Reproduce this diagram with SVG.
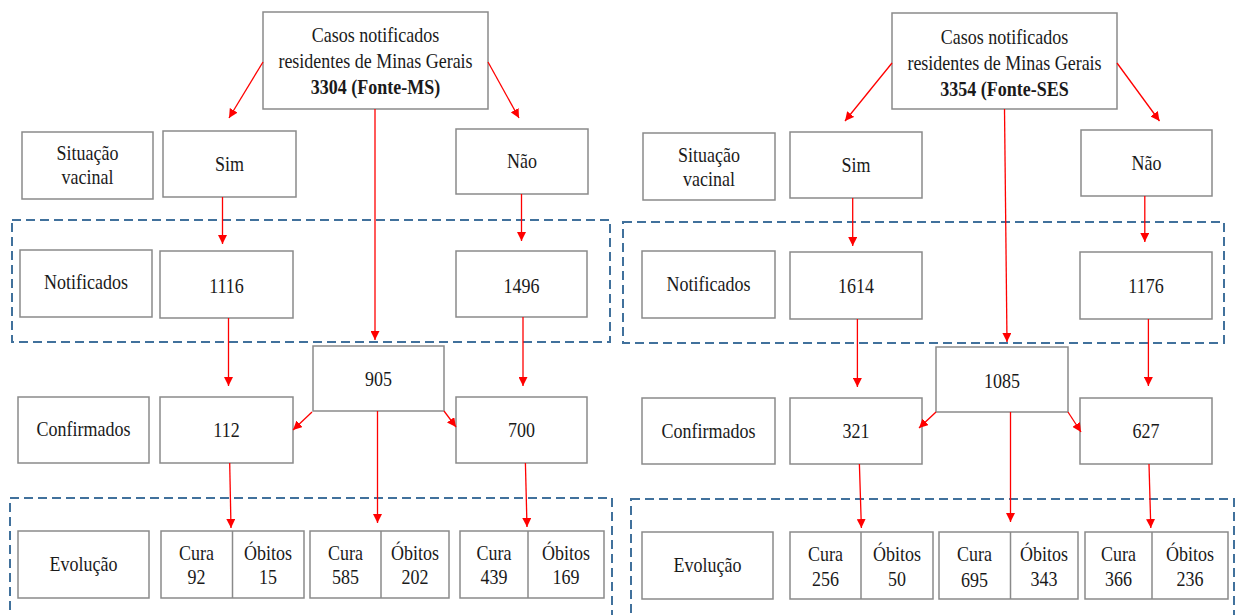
<svg xmlns="http://www.w3.org/2000/svg" width="1235" height="615" viewBox="0 0 1235 615">
<style>
.bx{fill:#fff;stroke:#8a8a8a;stroke-width:1.5}
.dv{stroke:#8a8a8a;stroke-width:1.5}
.grp{fill:none;stroke:#41719C;stroke-width:2;stroke-dasharray:9 5}
.t{font-family:"Liberation Serif","Times New Roman",serif;font-size:18px;fill:#1a1a1a;text-anchor:middle}
.b{font-weight:bold}
.c line{stroke:#ff0000;stroke-width:1.3;marker-end:url(#ah)}
</style>
<defs>
<marker id="ah" markerUnits="userSpaceOnUse" markerWidth="9" markerHeight="9" refX="9" refY="4.5" orient="auto">
<path d="M0,0 L9,4.5 L0,9 z" fill="#ff0000"/>
</marker>
</defs>
<rect width="1235" height="615" fill="#fff"/>
<g id="groups">
<rect class="grp" x="12" y="220" width="598" height="122"/>
<rect class="grp" x="10" y="498" width="602" height="140"/>
<rect class="grp" x="623" y="222" width="601" height="121"/>
<rect class="grp" x="631" y="499" width="603" height="140"/>
</g>
<!-- Left panel -->
<g id="top_l"><rect class="bx" x="263" y="12" width="225" height="97"/>
<text class="t" transform="matrix(1,0,0,1.15,375.5,42)">Casos notificados</text>
<text class="t" transform="matrix(1,0,0,1.15,375.5,68)">residentes de Minas  Gerais</text>
<text class="t b" transform="matrix(1,0,0,1.15,375.5,94)">3304 (Fonte-MS)</text></g>
<g id="sit_l"><rect class="bx" x="22" y="132" width="131" height="67"/>
<text class="t" transform="matrix(1,0,0,1.15,87.5,160)">Situação</text><text class="t" transform="matrix(1,0,0,1.15,87.5,184)">vacinal</text></g>
<g id="sim_l"><rect class="bx" x="163" y="131" width="133" height="66"/><text class="t" transform="matrix(1,0,0,1.15,229.5,171)">Sim</text></g>
<g id="nao_l"><rect class="bx" x="456" y="129" width="132" height="65"/><text class="t" transform="matrix(1,0,0,1.15,522,168)">Não</text></g>
<g id="notif_l"><rect class="bx" x="20" y="250" width="132" height="67"/><text class="t" transform="matrix(1,0,0,1.15,86,289)">Notificados</text></g>
<g id="n1116"><rect class="bx" x="160" y="251" width="133" height="67"/><text class="t" transform="matrix(1,0,0,1.15,226.5,293)">1116</text></g>
<g id="n1496"><rect class="bx" x="456" y="251" width="131" height="66"/><text class="t" transform="matrix(1,0,0,1.15,521.5,293)">1496</text></g>
<g id="n905"><rect class="bx" x="313" y="346" width="131" height="65"/><text class="t" transform="matrix(1,0,0,1.15,378.5,386)">905</text></g>
<g id="conf_l"><rect class="bx" x="18" y="397" width="131" height="66"/><text class="t" transform="matrix(1,0,0,1.15,83.5,436)">Confirmados</text></g>
<g id="n112"><rect class="bx" x="160" y="397" width="133" height="66"/><text class="t" transform="matrix(1,0,0,1.15,226.5,437)">112</text></g>
<g id="n700"><rect class="bx" x="456" y="397" width="131" height="66"/><text class="t" transform="matrix(1,0,0,1.15,521.5,437)">700</text></g>
<g id="evol_l"><rect class="bx" x="18" y="531" width="131" height="67"/><text class="t" transform="matrix(1,0,0,1.15,83.5,571)">Evolução</text></g>
<g id="ev_l1"><rect class="bx" x="161" y="531" width="143" height="67"/><line class="dv" x1="232.5" y1="531" x2="232.5" y2="598"/>
<text class="t" transform="matrix(1,0,0,1.15,196.5,560)">Cura</text><text class="t" transform="matrix(1,0,0,1.15,196.5,584)">92</text>
<text class="t" transform="matrix(1,0,0,1.15,268,560)">Óbitos</text><text class="t" transform="matrix(1,0,0,1.15,268,584)">15</text></g>
<g id="ev_l2"><rect class="bx" x="310" y="531" width="139" height="67"/><line class="dv" x1="381" y1="531" x2="381" y2="598"/>
<text class="t" transform="matrix(1,0,0,1.15,345.5,560)">Cura</text><text class="t" transform="matrix(1,0,0,1.15,345.5,584)">585</text>
<text class="t" transform="matrix(1,0,0,1.15,415,560)">Óbitos</text><text class="t" transform="matrix(1,0,0,1.15,415,584)">202</text></g>
<g id="ev_l3"><rect class="bx" x="460" y="531" width="144" height="67"/><line class="dv" x1="528" y1="531" x2="528" y2="598"/>
<text class="t" transform="matrix(1,0,0,1.15,494,560)">Cura</text><text class="t" transform="matrix(1,0,0,1.15,494,584)">439</text>
<text class="t" transform="matrix(1,0,0,1.15,566,560)">Óbitos</text><text class="t" transform="matrix(1,0,0,1.15,566,584)">169</text></g>
<!-- Right panel -->
<g id="top_r"><rect class="bx" x="892" y="13" width="225" height="96"/>
<text class="t" transform="matrix(1,0,0,1.15,1004.5,44)">Casos notificados</text>
<text class="t" transform="matrix(1,0,0,1.15,1004.5,70)">residentes de Minas  Gerais</text>
<text class="t b" transform="matrix(1,0,0,1.15,1004.5,96)">3354 (Fonte-SES</text></g>
<g id="sit_r"><rect class="bx" x="643" y="133" width="132" height="67"/>
<text class="t" transform="matrix(1,0,0,1.15,709,162)">Situação</text><text class="t" transform="matrix(1,0,0,1.15,709,186)">vacinal</text></g>
<g id="sim_r"><rect class="bx" x="790" y="132" width="132" height="66"/><text class="t" transform="matrix(1,0,0,1.15,856,172)">Sim</text></g>
<g id="nao_r"><rect class="bx" x="1081" y="130" width="131" height="66"/><text class="t" transform="matrix(1,0,0,1.15,1146.5,170)">Não</text></g>
<g id="notif_r"><rect class="bx" x="642" y="251" width="133" height="67"/><text class="t" transform="matrix(1,0,0,1.15,708.5,291)">Notificados</text></g>
<g id="n1614"><rect class="bx" x="790" y="252" width="132" height="67"/><text class="t" transform="matrix(1,0,0,1.15,856,293)">1614</text></g>
<g id="n1176"><rect class="bx" x="1080" y="252" width="132" height="67"/><text class="t" transform="matrix(1,0,0,1.15,1146,293)">1176</text></g>
<g id="n1085"><rect class="bx" x="936" y="347" width="132" height="65"/><text class="t" transform="matrix(1,0,0,1.15,1002,388)">1085</text></g>
<g id="conf_r"><rect class="bx" x="642" y="398" width="133" height="66"/><text class="t" transform="matrix(1,0,0,1.15,708.5,438)">Confirmados</text></g>
<g id="n321"><rect class="bx" x="790" y="398" width="132" height="66"/><text class="t" transform="matrix(1,0,0,1.15,856,438)">321</text></g>
<g id="n627"><rect class="bx" x="1080" y="398" width="132" height="66"/><text class="t" transform="matrix(1,0,0,1.15,1146,438)">627</text></g>
<g id="evol_r"><rect class="bx" x="642" y="532" width="131" height="67"/><text class="t" transform="matrix(1,0,0,1.15,707.5,572)">Evolução</text></g>
<g id="ev_r1"><rect class="bx" x="790" y="532" width="143" height="67"/><line class="dv" x1="861" y1="532" x2="861" y2="599"/>
<text class="t" transform="matrix(1,0,0,1.15,825.5,561)">Cura</text><text class="t" transform="matrix(1,0,0,1.15,825.5,586)">256</text>
<text class="t" transform="matrix(1,0,0,1.15,897,561)">Óbitos</text><text class="t" transform="matrix(1,0,0,1.15,897,586)">50</text></g>
<g id="ev_r2"><rect class="bx" x="939" y="532" width="139" height="67"/><line class="dv" x1="1010.5" y1="532" x2="1010.5" y2="599"/>
<text class="t" transform="matrix(1,0,0,1.15,974.5,561)">Cura</text><text class="t" transform="matrix(1,0,0,1.15,974.5,587)">695</text>
<text class="t" transform="matrix(1,0,0,1.15,1044,561)">Óbitos</text><text class="t" transform="matrix(1,0,0,1.15,1044,586)">343</text></g>
<g id="ev_r3"><rect class="bx" x="1085" y="532" width="143" height="67"/><line class="dv" x1="1152" y1="532" x2="1152" y2="599"/>
<text class="t" transform="matrix(1,0,0,1.15,1118.5,561)">Cura</text><text class="t" transform="matrix(1,0,0,1.15,1118.5,586)">366</text>
<text class="t" transform="matrix(1,0,0,1.15,1190,561)">Óbitos</text><text class="t" transform="matrix(1,0,0,1.15,1190,586)">236</text></g>
<g id="connectors" class="c">
<line x1="263" y1="62" x2="229" y2="118"/>
<line x1="488" y1="62" x2="519" y2="118"/>
<line x1="375" y1="109" x2="375" y2="340"/>
<line x1="222.5" y1="197" x2="222.5" y2="244"/>
<line x1="521.5" y1="194" x2="521.5" y2="241"/>
<line x1="228.5" y1="318" x2="228.5" y2="386"/>
<line x1="523" y1="317" x2="523" y2="386"/>
<line x1="312" y1="412" x2="293" y2="430"/>
<line x1="444" y1="411" x2="456" y2="427"/>
<line x1="377.5" y1="411" x2="377.5" y2="523"/>
<line x1="229.7" y1="463" x2="231" y2="528"/>
<line x1="525.4" y1="463" x2="527" y2="527"/>
<line x1="892" y1="63" x2="845" y2="121"/>
<line x1="1117" y1="63" x2="1159.5" y2="121"/>
<line x1="1004.5" y1="109" x2="1007" y2="342"/>
<line x1="852.7" y1="198" x2="852.7" y2="246"/>
<line x1="1144.8" y1="196" x2="1144.8" y2="242"/>
<line x1="857.4" y1="319" x2="857.4" y2="387"/>
<line x1="1148.4" y1="319" x2="1148.4" y2="386"/>
<line x1="936" y1="412" x2="919" y2="428"/>
<line x1="1068" y1="412" x2="1081" y2="432"/>
<line x1="1010.5" y1="412" x2="1010.5" y2="522"/>
<line x1="859.4" y1="464" x2="861.4" y2="528"/>
<line x1="1149" y1="464" x2="1150.8" y2="528"/>
</g>
</svg>
